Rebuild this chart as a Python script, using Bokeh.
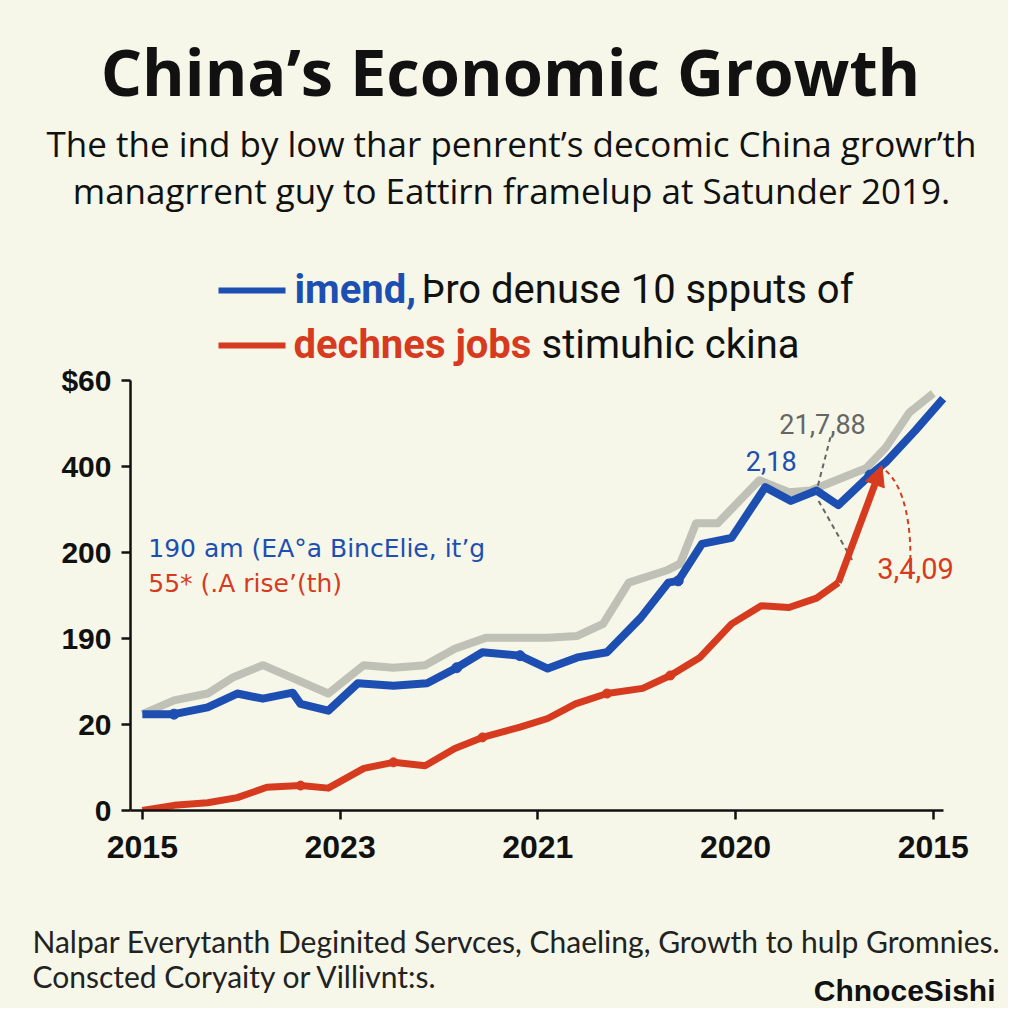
from bokeh.plotting import figure
from bokeh.layouts import column
from bokeh.models import Label, Arrow, NormalHead, FixedTicker, Range1d
from bokeh.embed import file_html
from bokeh.resources import INLINE

# ---- data (index units on x, tick-slot units on y) ----
x_ticks = [0, 1, 2, 3, 4]
x_tick_labels = ["2015", "2023", "2021", "2020", "2015"]
y_ticks = [0, 1, 2, 3, 4, 5]
y_tick_labels = ["0", "20", "190", "200", "400", "$60"]

blue_x = [0.00, 0.16, 0.33, 0.48, 0.61, 0.76, 0.80, 0.94, 1.09, 1.27, 1.44, 1.59, 1.72, 1.91,
          2.05, 2.20, 2.35, 2.52, 2.66, 2.71, 2.83, 2.98, 3.15, 3.28, 3.41, 3.52, 3.68, 3.76, 3.91, 4.05]
blue_y = [1.12, 1.12, 1.20, 1.36, 1.30, 1.37, 1.24, 1.16, 1.48, 1.45, 1.48, 1.66, 1.84, 1.80,
          1.65, 1.78, 1.84, 2.24, 2.65, 2.67, 3.10, 3.17, 3.76, 3.60, 3.72, 3.55, 3.90, 4.05, 4.42, 4.79]

gray_x = [0.00, 0.16, 0.33, 0.46, 0.61, 0.94, 1.12, 1.27, 1.43, 1.58, 1.74, 2.05, 2.20, 2.33,
          2.46, 2.65, 2.72, 2.80, 2.91, 3.12, 3.27, 3.38, 3.66, 3.76, 3.88, 4.00]
gray_y = [1.12, 1.28, 1.36, 1.55, 1.69, 1.36, 1.69, 1.66, 1.69, 1.88, 2.01, 2.01, 2.03, 2.17,
          2.65, 2.79, 2.87, 3.34, 3.34, 3.84, 3.70, 3.72, 3.98, 4.22, 4.63, 4.85]

red_x = [0.00, 0.16, 0.33, 0.48, 0.63, 0.80, 0.94, 1.12, 1.27, 1.43, 1.58, 1.72, 1.91, 2.05,
         2.19, 2.35, 2.53, 2.67, 2.82, 2.98, 3.13, 3.27, 3.41, 3.52, 3.74]
red_y = [0.00, 0.06, 0.09, 0.15, 0.27, 0.29, 0.26, 0.49, 0.56, 0.52, 0.72, 0.85, 0.97, 1.07,
         1.24, 1.36, 1.42, 1.57, 1.78, 2.17, 2.38, 2.36, 2.47, 2.65, 4.01]

blue_marks = [1, 11, 13, 19, 26]
red_marks = [5, 8, 11, 15, 17]

BG = "#f6f7e8"
BLUE = "#1d4fb2"
RED = "#d63b1f"
GRAY = "#bfc1b7"
DGRAY = "#666666"
INK = "#111111"
W = 1008


def blank(h):
    f = figure(width=W, height=h, x_range=Range1d(0, W), y_range=Range1d(h, 0),
               output_backend="svg", toolbar_location=None, x_axis_type=None, y_axis_type=None,
               min_border=0, background_fill_color=BG, border_fill_color=BG)
    f.outline_line_color = None
    f.grid.grid_line_color = None
    f.frame_align = False
    return f


def lab(fig, x, y, text, size, color=INK, font="Open Sans", style="normal", align="left", base="middle"):
    fig.add_layout(Label(x=x, y=y, text=text, text_font_size=size, text_color=color,
                         text_font=font, text_font_style=style, text_align=align, text_baseline=base))


# ---------------- header ----------------
top = blank(375)
lab(top, 510, 70, "China\u2019s Economic Growth", "65px", INK, "Open Sans", "bold", "center")
lab(top, 511, 143, "The the ind by low thar penrent\u2019s decomic China growr\u2019th", "35px", INK, "Open Sans", align="center")
lab(top, 511, 190, "managrrent guy to Eattirn framelup at Satunder 2019.", "35px", INK, "Open Sans", align="center")
top.segment(x0=[218, 218], y0=[290, 345], x1=[285, 285], y1=[290, 345],
            line_color=[BLUE, RED], line_width=6)
lab(top, 294, 289, "imend,", "40px", BLUE, "Roboto", "bold")
lab(top, 421, 289, "\u00dero denuse 10 spputs of", "40px", INK, "Roboto")
lab(top, 293, 344, "dechnes jobs", "40px", RED, "Roboto", "bold")
lab(top, 541, 344, "stimuhic ckina", "40px", INK, "Roboto")

# ---------------- main chart ----------------
X_AXIS_END = 4.05
p = figure(width=W, height=530, x_range=(-0.06, 4.34), y_range=(0, 5),
           output_backend="svg", toolbar_location=None,
           min_border_left=130, min_border_right=8, min_border_top=30, min_border_bottom=70,
           background_fill_color=BG, border_fill_alpha=0, margin=(-25, 0, 0, 0))
p.outline_line_color = None
p.grid.grid_line_color = None
p.frame_align = False

p.xaxis.ticker = FixedTicker(ticks=x_ticks)
p.xaxis.bounds = (-0.06, X_AXIS_END)
p.xaxis.major_label_overrides = {t: l for t, l in zip(x_ticks, x_tick_labels)}
p.yaxis.ticker = FixedTicker(ticks=y_ticks)
p.yaxis.major_label_overrides = {t: l for t, l in zip(y_ticks, y_tick_labels)}
for ax in (p.xaxis[0], p.yaxis[0]):
    ax.axis_line_width = 2.5
    ax.axis_line_color = INK
    ax.major_tick_line_width = 2.5
    ax.major_tick_line_color = INK
    ax.major_tick_out = 9
    ax.major_tick_in = 0
    ax.minor_tick_line_color = None
    ax.major_label_text_font = "Liberation Sans"
    ax.major_label_text_font_style = "bold"
    ax.major_label_text_color = INK
p.xaxis.major_label_text_font_size = "32px"
p.yaxis.major_label_text_font_size = "30px"
p.xaxis.major_label_standoff = 16
p.yaxis.major_label_standoff = 10

p.line(gray_x, gray_y, line_color=GRAY, line_width=8, line_join="round")
p.line(blue_x, blue_y, line_color=BLUE, line_width=8, line_join="round")
p.line(red_x[:-1], red_y[:-1], line_color=RED, line_width=7, line_join="round")
p.scatter([blue_x[i] for i in blue_marks], [blue_y[i] for i in blue_marks],
          marker="circle", size=10, color=BLUE)
p.scatter([red_x[i] for i in red_marks], [red_y[i] for i in red_marks],
          marker="circle", size=9, color=RED)
p.add_layout(Arrow(end=NormalHead(size=20, fill_color=RED, line_color=RED),
                   x_start=red_x[-2], y_start=red_y[-2], x_end=red_x[-1], y_end=red_y[-1],
                   line_color=RED, line_width=7))

# callout lines
p.segment(x0=[3.48, 3.42], y0=[4.34, 3.60], x1=[3.41, 3.59], y1=[3.72, 2.91],
          line_color=DGRAY, line_width=2, line_dash="5 4")
p.bezier(x0=[3.76], y0=[3.95], x1=[3.88], y1=[2.70], cx0=[3.85], cy0=[3.78], cx1=[3.90], cy1=[3.31],
         line_color=RED, line_width=2, line_dash="5 4")

lab(p, 3.91, 5.12, "560", "27px", BLUE, "Roboto", align="center")
lab(p, 3.18, 4.06, "2,18", "27px", BLUE, "Roboto", align="center")
lab(p, 3.44, 4.49, "21,7,88", "27px", DGRAY, "Roboto", align="center")
lab(p, 3.91, 2.81, "3,4,09", "29px", RED, "Roboto", align="center")
lab(p, 0.03, 3.05, "190 am (EA\u00b0a BincElie, it\u2019g", "25px", BLUE, "DejaVu Sans")
lab(p, 0.03, 2.64, "55* (.A rise\u2019(th)", "25px", RED, "DejaVu Sans")

# ---------------- footer ----------------
bot = blank(128)
lab(bot, 32, 60, "Nalpar Everytanth Deginited Servces, Chaeling, Growth to hulp Gromnies.", "30px", "#222222", "Lato")
lab(bot, 32, 95, "Conscted Coryaity or Villivnt:s.", "30px", "#222222", "Lato")
lab(bot, 995, 110, "ChnoceSishi", "30px", INK, "Liberation Sans", "bold", "right")

layout = column(top, p, bot, spacing=0, styles={"background-color": BG})
open("out.html", "w").write(file_html(layout, INLINE))
